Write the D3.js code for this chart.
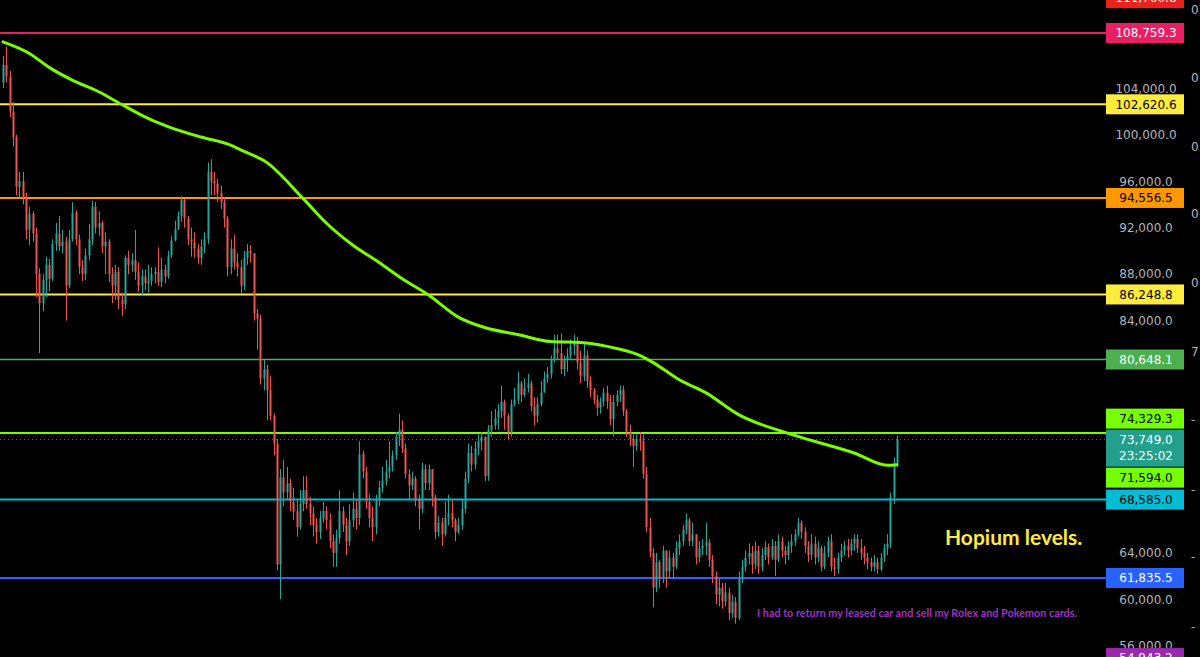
<!DOCTYPE html>
<html>
<head>
<meta charset="utf-8">
<script src="https://cdn.jsdelivr.net/npm/d3@7/dist/d3.min.js"></script>
<style>
  html, body { margin: 0; padding: 0; background: #000; }
  svg { display: block; }
</style>
</head>
<body>
<svg id="chart" width="1200" height="657"></svg>
<script>
// ---------------- DATA (prices in thousands of USD for candles) ----------------
const firstOpenK = 104.5;
const closeK = [
  106.0,105.0,102.0,99.8,95.5,96.0,94.6,91.8,93.2,91.5,
  88.0,85.5,87.5,88.8,87.6,90.6,91.5,90.4,90.8,87.0,
  91.0,93.3,91.0,88.6,88.0,89.6,91.0,93.8,92.0,92.4,
  90.4,90.8,88.0,87.0,88.2,85.8,85.4,89.4,88.8,89.2,
  88.2,87.0,87.8,87.2,87.4,88.0,88.2,87.3,88.4,87.8,
  89.6,90.9,91.9,93.0,94.4,92.8,91.0,90.8,90.2,89.4,
  90.4,91.0,96.8,96.0,95.8,95.0,94.2,92.8,88.6,90.2,
  89.0,88.6,87.0,89.4,90.0,89.8,84.6,84.2,79.0,79.8,
  78.0,75.8,73.4,63.0,70.5,69.2,70.0,68.4,67.6,66.2,
  68.2,69.4,68.2,67.4,66.4,65.8,67.0,67.6,66.8,65.0,
  64.0,65.3,67.6,66.4,65.0,66.8,67.8,67.0,72.5,71.0,
  68.4,67.0,66.2,68.6,69.6,70.2,71.0,71.4,72.4,74.0,
  74.6,73.0,70.8,69.8,70.4,68.6,67.8,71.2,70.0,71.2,
  68.8,65.8,66.6,65.6,67.0,67.4,66.8,65.8,66.4,67.8,
  70.4,72.6,71.6,73.0,73.6,74.0,70.6,74.6,75.0,75.6,
  76.2,77.0,75.8,74.4,76.8,77.2,78.6,77.6,78.2,78.6,
  76.6,75.8,76.8,77.8,79.0,79.4,80.6,81.6,81.2,79.8,
  80.6,81.0,81.8,82.2,80.4,79.2,81.0,78.8,78.0,77.2,
  76.5,77.0,77.8,77.0,75.5,77.0,77.6,78.0,76.2,74.4,
  73.8,73.2,73.8,73.6,70.8,66.2,64.0,61.0,63.2,61.8,
  64.2,62.4,63.6,62.8,64.4,65.0,66.0,66.8,65.0,65.6,
  63.6,64.4,64.6,64.9,63.4,62.0,60.4,61.0,59.8,60.6,
  58.8,59.8,58.4,61.8,62.8,63.6,64.0,63.0,64.2,62.8,
  63.8,64.5,63.6,64.6,63.4,65.0,64.2,63.8,64.6,65.0,
  65.6,66.6,65.8,64.6,63.8,64.8,63.6,64.4,62.8,64.0,
  65.0,62.8,62.6,63.6,64.2,64.6,64.2,64.8,65.2,64.4,
  64.0,63.6,63.2,62.8,63.2,62.6,63.6,64.4,64.8,68.8,71.7,73.749
];
const highK = [
  106.8,107.6,105.5,102.8,100.0,96.8,96.8,95.0,93.8,93.4,
  92.0,88.5,88.0,89.5,89.3,91.0,92.4,93.0,91.8,91.2,
  91.8,94.2,93.5,91.4,89.2,90.2,92.3,94.3,94.2,93.4,
  92.6,91.6,91.0,88.6,88.8,88.6,86.4,89.6,90.0,89.8,
  91.8,89.0,88.4,88.4,88.8,88.6,88.6,90.3,89.4,88.8,
  90.0,91.3,92.6,93.4,94.7,94.5,93.0,92.0,91.6,90.6,
  91.0,91.6,97.6,97.9,96.8,96.2,95.6,94.6,93.0,91.0,
  91.4,89.8,89.2,90.0,90.6,90.5,89.8,85.0,84.5,80.6,
  80.2,79.2,76.0,73.8,71.2,72.0,71.4,70.4,69.6,68.5,
  69.4,70.6,70.6,68.8,68.0,67.0,67.6,68.4,68.0,67.4,
  65.6,66.0,69.4,68.0,67.0,68.2,69.2,68.6,73.6,72.8,
  71.4,69.0,68.0,69.0,70.2,71.4,72.0,73.6,72.8,74.4,
  76.0,75.4,73.4,71.2,71.0,70.6,69.0,71.8,71.6,71.6,
  71.2,69.0,67.2,67.0,68.4,69.0,68.6,67.0,67.0,68.6,
  71.0,73.4,73.2,73.6,74.2,74.4,74.0,75.0,76.2,76.4,
  76.8,78.4,77.2,76.0,77.2,78.2,79.6,78.8,79.0,79.4,
  78.8,77.4,77.4,78.8,79.6,80.0,81.0,82.8,82.8,82.9,
  81.0,81.6,82.4,82.8,82.6,81.4,82.0,81.4,79.2,78.2,
  77.6,77.4,78.2,78.4,77.6,77.6,78.0,78.4,78.4,76.4,
  75.0,74.2,74.2,74.4,74.2,71.4,67.0,64.4,64.0,63.4,
  64.6,64.2,64.2,64.0,65.0,65.6,66.4,67.4,67.0,66.6,
  65.6,65.0,65.2,66.6,65.2,63.8,62.4,61.8,61.4,61.4,
  61.0,60.4,60.2,62.4,63.4,64.2,64.8,64.6,65.0,64.6,
  64.4,65.0,64.8,65.2,65.0,65.6,65.4,64.6,65.0,65.6,
  66.0,67.0,66.8,66.2,65.0,65.6,65.4,65.0,64.6,64.6,
  65.4,65.6,63.6,64.0,64.8,65.0,65.2,65.2,65.6,65.6,
  65.2,64.6,64.0,63.6,63.8,63.6,64.0,64.8,65.6,69.2,72.2,74.1
];
const lowK = [
  104.0,104.5,101.5,99.0,94.8,94.5,94.0,91.0,90.5,90.8,
  86.0,81.2,84.8,86.0,86.5,87.4,90.0,90.0,89.8,84.0,
  86.8,90.8,90.5,88.0,87.4,87.5,89.2,90.5,91.5,91.3,
  89.8,88.0,87.3,85.5,85.8,85.0,84.4,85.0,88.0,88.2,
  87.5,86.5,86.2,86.6,86.4,87.0,87.2,87.0,86.9,87.2,
  87.6,89.4,90.8,91.8,92.5,92.0,90.5,89.5,89.4,88.9,
  88.8,89.8,90.6,94.8,94.8,94.2,93.6,92.0,87.8,88.0,
  88.4,87.8,86.3,86.6,88.8,89.0,84.0,81.5,78.5,78.0,
  75.4,75.4,72.4,62.5,60.0,68.0,68.6,67.6,66.8,65.4,
  66.0,67.6,67.8,66.4,65.4,64.8,65.2,66.6,66.0,64.4,
  62.8,62.8,64.8,65.8,63.8,64.6,66.2,66.0,66.4,70.4,
  67.8,66.2,65.0,65.6,68.0,69.2,69.8,70.4,71.0,72.0,
  73.2,72.6,70.4,68.6,69.4,68.0,66.0,67.4,69.4,69.4,
  68.0,65.2,65.4,64.6,65.4,66.4,66.2,65.0,65.6,66.0,
  67.4,70.0,71.0,71.2,72.4,72.8,70.2,70.2,74.0,74.6,
  74.6,75.6,74.6,73.8,74.0,76.6,76.8,77.0,77.4,77.8,
  76.2,75.0,75.2,76.6,77.8,78.6,79.0,80.4,80.6,79.4,
  79.2,79.6,80.6,81.0,79.8,78.6,78.8,78.2,77.4,76.8,
  75.8,76.0,76.6,76.4,75.0,74.0,76.6,77.0,75.8,74.0,
  73.2,71.4,72.8,72.8,70.4,65.8,63.6,59.3,60.6,61.0,
  61.4,61.0,61.8,61.8,62.6,63.8,64.6,65.6,64.6,64.6,
  63.0,63.2,63.8,63.8,62.8,61.4,59.6,59.4,59.2,59.4,
  58.2,58.4,57.9,58.2,61.4,62.4,63.0,62.2,62.6,62.2,
  62.4,63.4,63.0,63.4,62.0,63.2,63.6,63.0,63.4,64.0,
  64.6,65.4,65.2,64.0,63.2,63.4,63.0,63.2,62.4,62.6,
  63.6,62.4,62.0,62.2,63.2,63.8,63.6,63.8,64.2,64.0,
  63.4,63.0,62.6,62.4,62.4,62.2,62.4,63.2,63.8,64.4,68.2,71.4
];

// moving average (candle index, value in thousands)
const maIndex = [0,8,14,21,29,36,44,50,60,69,72,80,91,98,106,114,121,129,138,146,156,166,176,186,193,197,205,213,223,239,258,268,271];
const maValueK = [108.0,107.0,105.8,104.7,103.7,102.6,101.4,100.7,99.8,99.1,98.7,97.6,94.5,92.4,90.5,89.0,87.6,86.2,84.3,83.4,82.8,82.2,82.1,81.6,81.0,80.4,78.9,77.8,75.9,74.2,72.6,71.55,71.594];

// horizontal levels
const levelValues = [111760.8, 108759.3, 102620.6, 94556.5, 86248.8, 80648.1, 74329.3, 68585.0, 61835.5, 54943.2];
const levelColors = ["#e8231c", "#e91e63", "#ffeb3b", "#ff9800", "#ffeb3b", "#4caf50", "#76ff03", "#00bcd4", "#2962ff", "#9c27b0"];
const levelTextColors = ["#ffffff", "#ffffff", "#000000", "#000000", "#000000", "#ffffff", "#000000", "#000000", "#ffffff", "#ffffff"];
const levelWidths = [2, 2, 2, 2, 2, 1.5, 2, 2, 2, 2];

const currentPrice = 73749.0;
const countdownText = "23:25:02";
const maLastValue = 71594.0;

const tickValues = [56000, 60000, 64000, 68000, 72000, 76000, 80000, 84000, 88000, 92000, 96000, 100000, 104000, 108000];

const edgeTexts = ["0", "0", "0", "0", "0", "7", "-", "-", "-", "-"];
const edgeYs = [10, 78, 147, 214, 283, 352, 420, 490, 557, 627];

const noteMain = "Hopium levels.";
const noteSub = "I had to return my leased car and sell my Rolex and Pokemon cards.";

// ---------------- DRAW ----------------
const svg = d3.select("#chart");
const W = 1200, H = 657;
const plotRight = 1106;
const axisCenter = 1146;

svg.append("rect").attr("width", W).attr("height", H).attr("fill", "#000");

const N = closeK.length;
const x = d3.scaleLinear().domain([0, N - 1]).range([3, 897]);
const y = d3.scaleLinear().domain([61835.5, 108759.3]).range([578, 33]);
const fmt = d3.format(",.1f");

const candles = closeK.map((c, i) => {
  const o = i === 0 ? firstOpenK : closeK[i - 1];
  return { i, o: o * 1000, c: c * 1000, h: highK[i] * 1000, l: lowK[i] * 1000 };
});

// level records
const lvl = levelValues.map((v, k) => ({ v, color: levelColors[k], tc: levelTextColors[k], w: levelWidths[k] }));

// right-side price labels with collision avoidance (computed first, drawn last)
const labels = lvl.map(d => ({ v: d.v, text: fmt(d.v), bg: d.color, fg: d.tc, h: 20, lines: null }));
labels.push({ v: currentPrice, text: fmt(currentPrice), bg: "#22a08c", fg: "#ffffff", h: 37, lines: [fmt(currentPrice), countdownText], anchor: true });
labels.push({ v: maLastValue, text: fmt(maLastValue), bg: "#76ff03", fg: "#000000", h: 20 });
labels.forEach(d => { d.top = d.anchor ? y(d.v) - 10 : y(d.v) - d.h / 2; });
labels.sort((a, b) => a.top - b.top);
const ai = labels.findIndex(d => d.anchor);
for (let k = ai - 1; k >= 0; k--) {
  const lim = labels[k + 1].top - 1;
  if (labels[k].top + labels[k].h > lim) labels[k].top = lim - labels[k].h;
}
for (let k = ai + 1; k < labels.length; k++) {
  const lim = labels[k - 1].top + labels[k - 1].h + 1;
  if (labels[k].top < lim) labels[k].top = lim;
}

// axis tick labels: those hidden behind a price label are not drawn
const visibleTicks = tickValues.filter(t => {
  const ty = y(t);
  return !labels.some(l => ty >= l.top - 2 && ty <= l.top + l.h + 2);
});
const axisG = svg.append("g").attr("transform", `translate(${axisCenter},0)`)
  .call(d3.axisRight(y).tickValues(visibleTicks).tickFormat(fmt).tickSize(0));
axisG.select(".domain").remove();
axisG.selectAll("text")
  .attr("x", 0)
  .attr("text-anchor", "middle")
  .attr("fill", "#b2b5be")
  .style("font-family", "'DejaVu Sans', sans-serif")
  .style("font-size", "12px");

// level lines
svg.append("g").selectAll("line").data(lvl).join("line")
  .attr("x1", 0).attr("x2", plotRight)
  .attr("y1", d => y(d.v)).attr("y2", d => y(d.v))
  .attr("stroke", d => d.color).attr("stroke-width", d => d.w);

// current price dotted line
svg.append("line")
  .attr("x1", 0).attr("x2", plotRight)
  .attr("y1", y(currentPrice)).attr("y2", y(currentPrice))
  .attr("stroke", "#5d7a78").attr("stroke-width", 1).attr("stroke-dasharray", "1,3");

// candles
const up = "#26a69a", down = "#ef5350";
const cg = svg.append("g");
cg.selectAll("line").data(candles).join("line")
  .attr("x1", d => Math.round(x(d.i)) + 0.5).attr("x2", d => Math.round(x(d.i)) + 0.5)
  .attr("y1", d => y(Math.max(d.h, d.o, d.c))).attr("y2", d => y(Math.min(d.l, d.o, d.c)))
  .attr("stroke", d => d.c >= d.o ? up : down).attr("stroke-width", 1);
cg.selectAll("rect").data(candles).join("rect")
  .attr("x", d => Math.round(x(d.i)) - 0.5)
  .attr("width", 2)
  .attr("y", d => y(Math.max(d.o, d.c)))
  .attr("height", d => Math.max(1, Math.abs(y(d.o) - y(d.c))))
  .attr("fill", d => d.c >= d.o ? up : down);

// moving average
const maPts = maIndex.map((idx, k) => ({ i: idx, v: maValueK[k] * 1000 }));
svg.append("path").datum(maPts)
  .attr("d", d3.line().x(d => x(d.i)).y(d => y(d.v)).curve(d3.curveMonotoneX))
  .attr("fill", "none").attr("stroke", "#7cfc00").attr("stroke-width", 3)
  .attr("stroke-linecap", "round");

// draw price labels
const lg = svg.append("g").selectAll("g").data(labels).join("g");
lg.append("rect")
  .attr("x", plotRight).attr("y", d => d.top)
  .attr("width", 78).attr("height", d => d.h)
  .attr("fill", d => d.bg);
lg.each(function (d) {
  const g = d3.select(this);
  const rows = d.lines || [d.text];
  rows.forEach((t, r) => {
    g.append("text")
      .attr("x", axisCenter).attr("y", d.top + 10 + r * 16)
      .attr("dy", "0.36em")
      .attr("text-anchor", "middle")
      .attr("fill", d.fg)
      .style("font-family", "'DejaVu Sans', sans-serif")
      .style("font-size", "12px")
      .text(t);
  });
});

// partially visible right-edge scale
svg.append("g").selectAll("text").data(edgeTexts).join("text")
  .attr("x", 1191).attr("y", (d, k) => edgeYs[k]).attr("dy", "0.36em")
  .attr("fill", "#b2b5be")
  .style("font-family", "'DejaVu Sans', sans-serif").style("font-size", "12px")
  .text(d => d);

// annotations
svg.append("text")
  .attr("x", 945).attr("y", 545)
  .attr("fill", "#ffeb3b")
  .style("font-family", "Lato, sans-serif").style("font-weight", "700").style("font-size", "21px")
  .text(noteMain);
svg.append("text")
  .attr("x", 757).attr("y", 617)
  .attr("fill", "#a130c2")
  .style("font-family", "Lato, sans-serif").style("font-weight", "700").style("font-size", "10.8px")
  .text(noteSub);
</script>
</body>
</html>
